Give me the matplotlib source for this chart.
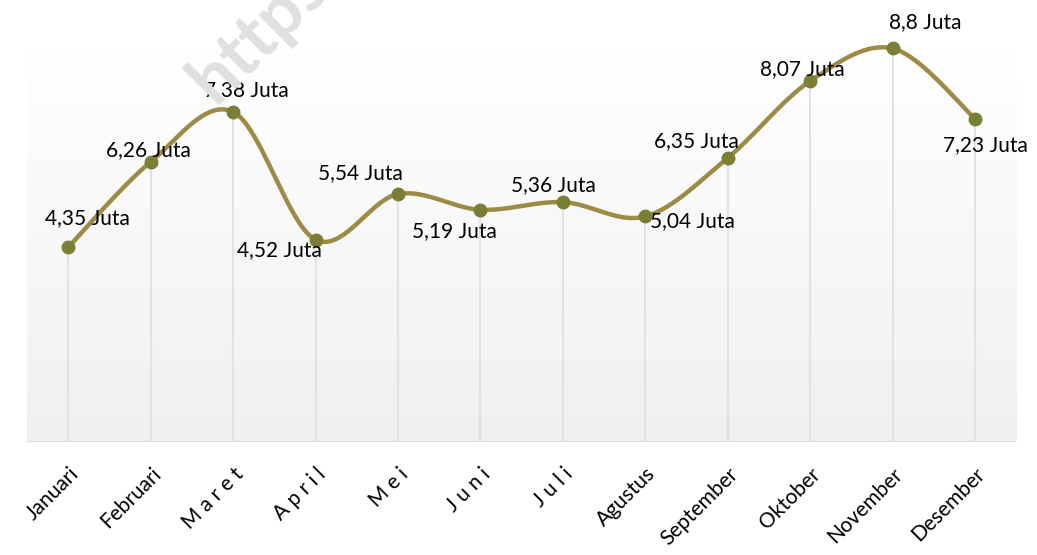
import numpy as np
import matplotlib
matplotlib.use('Agg')
import matplotlib.pyplot as plt

# data
bulan = ["Januari", "Februari", "M a r e t", "A p r i l", "M e i", "J u n i",
         "J u l i", "Agustus", "September", "Oktober", "November", "Desember"]
nilai = [4.35, 6.26, 7.38, 4.52, 5.54, 5.19, 5.36, 5.04, 6.35, 8.07, 8.8, 7.23]
label = ["4,35 Juta", "6,26 Juta", "7,38 Juta", "4,52 Juta", "5,54 Juta", "5,19 Juta",
         "5,36 Juta", "5,04 Juta", "6,35 Juta", "8,07 Juta", "8,8 Juta", "7,23 Juta"]
# label offsets in pixels (dx, dy), hand placed like the original
off_x = [19, -2, 13, -36, -38, -26, -9, 47, -31, -8, 33, 10]
off_y = [29, 12, 22, -10, 21, -21, 17, -5, 17, 12, 26, -27]

FONT = "Lato"
LINE_COL = "#9c8b45"
DOT_COL = "#7a7f35"


def excel_smooth(xs, ys, n=40):
    # bezier smoothing roughly like Excel's "smoothed line"
    xs = np.asarray(xs, float)
    ys = np.asarray(ys, float)
    px, py = [], []
    for i in range(len(xs) - 1):
        x0, y0 = xs[max(i - 1, 0)], ys[max(i - 1, 0)]
        x1, y1 = xs[i], ys[i]
        x2, y2 = xs[i + 1], ys[i + 1]
        x3, y3 = xs[min(i + 2, len(xs) - 1)], ys[min(i + 2, len(xs) - 1)]
        c1x, c1y = x1 + (x2 - x0) / 6, y1 + (y2 - y0) / 6
        c2x, c2y = x2 - (x3 - x1) / 6, y2 - (y3 - y1) / 6
        t = np.linspace(0, 1, n)
        bx = (1-t)**3*x1 + 3*(1-t)**2*t*c1x + 3*(1-t)*t**2*c2x + t**3*x2
        by = (1-t)**3*y1 + 3*(1-t)**2*t*c1y + 3*(1-t)*t**2*c2y + t**3*y2
        px.extend(bx)
        py.extend(by)
    return np.array(px), np.array(py)


fig = plt.figure(figsize=(10.37, 5.55), dpi=100)
ax = fig.add_axes([0.026, 0.2043, 0.954, 0.702])
x = np.arange(len(bulan))
ymax = 8.72

# gradient background
grad = np.linspace(0, 1, 256).reshape(-1, 1)
ax.imshow(grad, extent=[-0.5, 11.5, 0, ymax], aspect='auto', origin='lower',
          cmap=matplotlib.colors.LinearSegmentedColormap.from_list("g", ["#f0f0f0", "#ffffff"]),
          zorder=0)

# watermark (runs off the top edge, as in the original)
fig.text(0.207, 0.81, "https", rotation=45, rotation_mode='anchor', fontsize=51,
         fontweight='bold', color="#e0e0e0", family=FONT, ha='left', va='baseline', zorder=0.5)

ax.vlines(x, 0, nilai, color="#e2e2e2", lw=1.5, zorder=1)
ax.axhline(0, color="#d9d9d9", lw=2, zorder=2)

sx, sy = excel_smooth(x, nilai)
ax.plot(sx, sy, color=LINE_COL, lw=3.2, solid_capstyle='round', zorder=3, clip_on=False)
ax.plot(x, nilai, 'o', color=DOT_COL, ms=9, zorder=4, clip_on=False)

for i in range(len(x)):
    ax.annotate(label[i], (x[i], nilai[i]), xytext=(off_x[i], off_y[i]),
                textcoords='offset pixels', ha='center', va='center',
                fontsize=15, family=FONT, color="black", zorder=5, annotation_clip=False)

ax.set_xlim(-0.5, 11.5)
ax.set_ylim(0, ymax)
ax.set_yticks([])
ax.set_xticks(x)
ax.set_xticklabels(bulan, rotation=45, ha='right', va='top', rotation_mode='anchor',
                   fontsize=15, family=FONT)
ax.tick_params(axis='x', length=0, pad=16)
for s in ax.spines.values():
    s.set_visible(False)

fig.savefig("out.png", dpi=100)
